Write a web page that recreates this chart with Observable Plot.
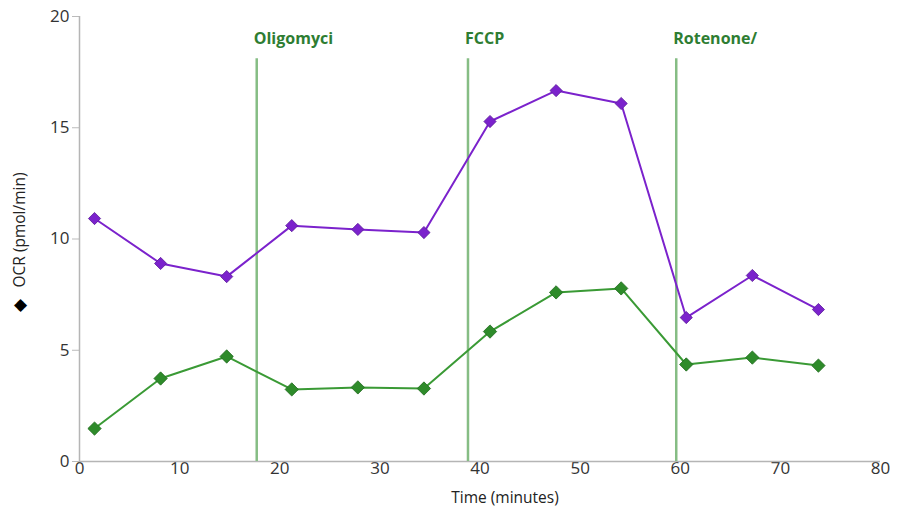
<!DOCTYPE html>
<html>
<head>
<meta charset="utf-8">
<script src="https://cdn.jsdelivr.net/npm/d3@7"></script>
<script src="https://cdn.jsdelivr.net/npm/@observablehq/plot@0.6"></script>
<style>
  body { margin: 0; background: #fff; }
  svg { font-family: "Open Sans", sans-serif; }
</style>
</head>
<body>
<div id="chart"></div>
<script>
const times = [1.5, 8.1, 14.7, 21.2, 27.8, 34.4, 41.0, 47.6, 54.1, 60.6, 67.2, 73.8];
const purpleOCR = [10.92, 8.9, 8.31, 10.6, 10.43, 10.29, 15.28, 16.67, 16.09, 6.47, 8.36, 6.83];
const greenOCR = [1.48, 3.73, 4.72, 3.24, 3.33, 3.28, 5.84, 7.6, 7.78, 4.36, 4.67, 4.31];
const injectionTimes = [17.7, 38.8, 59.6];
const injectionLabels = ["Oligomyci", "FCCP", "Rotenone/"];
const xTicks = [0, 10, 20, 30, 40, 50, 60, 70, 80];
const yTicks = [0, 5, 10, 15, 20];

const purple = times.map((t, i) => ({t, v: purpleOCR[i]}));
const green = times.map((t, i) => ({t, v: greenOCR[i]}));
const injections = injectionTimes.map((t, i) => ({t, label: injectionLabels[i]}));

const chart = Plot.plot({
  width: 897,
  height: 510,
  marginLeft: 79,
  marginRight: 17,
  marginTop: 16,
  marginBottom: 49,
  style: {fontFamily: "'Open Sans', sans-serif", background: "#fff"},
  x: {domain: [0, 80]},
  y: {domain: [0, 20]},
  marks: [
    Plot.axisY(yTicks, {tickSize: 7, tickPadding: 3, fontSize: 17, fill: "#333", stroke: "#bbb", label: null}),
    Plot.axisX(xTicks, {tickSize: 0, tickPadding: 0, fontSize: 17, fill: "#333", label: null}),
    Plot.ruleX([0], {stroke: "#b5b5b5", strokeWidth: 1.5}),
    Plot.ruleY([0], {stroke: "#b5b5b5", strokeWidth: 1.5}),
    Plot.ruleX(injections, {x: "t", y1: 0, y2: 18.1, stroke: "#86bd84", strokeWidth: 2.5}),
    Plot.text(injections, {x: "t", y: 19.0, text: "label", textAnchor: "start", dx: -3, fill: "#2e7d32", fontWeight: "bold", fontSize: 16}),
    Plot.line(purple, {x: "t", y: "v", stroke: "#7b22cc", strokeWidth: 2}),
    Plot.dot(purple, {x: "t", y: "v", symbol: "diamond2", r: 5.5, fill: "#7b22cc", stroke: "#5a1a99", strokeWidth: 0.8}),
    Plot.line(green, {x: "t", y: "v", stroke: "#3a9a35", strokeWidth: 2}),
    Plot.dot(green, {x: "t", y: "v", symbol: "diamond2", r: 6, fill: "#2e8b2a", stroke: "#1f6a1d", strokeWidth: 0.8}),
    Plot.text(["OCR (pmol/min)"], {frameAnchor: "left", textAnchor: "middle", rotate: -90, dx: -59, dy: -9, fontSize: 15.5, fill: "#222"}),
    Plot.text(["◆"], {frameAnchor: "left", textAnchor: "middle", dx: -59, dy: 66, fontSize: 17, fill: "#000"}),
    Plot.text(["Time (minutes)"], {frameAnchor: "bottom", dy: 41, dx: 25, fontSize: 15.5, fill: "#222"})
  ]
});
document.getElementById("chart").appendChild(chart);
</script>
</body>
</html>
